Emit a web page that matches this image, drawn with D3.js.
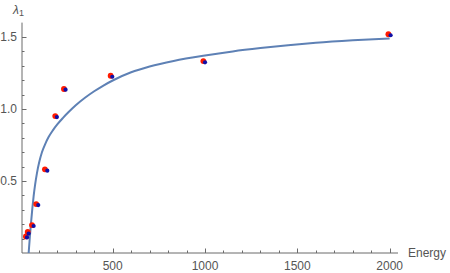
<!DOCTYPE html>
<html><head><meta charset="utf-8">
<script src="https://cdn.jsdelivr.net/npm/d3@7"></script>
<style>
html,body{margin:0;padding:0;background:#fff;}
svg text{font-family:"Liberation Sans",Arial,sans-serif;}
</style></head>
<body><svg id="c" width="450" height="273"></svg>
<script>
// Data
const redEnergy = [30, 40, 63, 86, 133, 189, 236, 489, 991, 1993];
const redLambda = [0.115, 0.146, 0.194, 0.340, 0.581, 0.951, 1.139, 1.231, 1.333, 1.519];
const blueEnergy = [36, 45, 72, 97, 146, 198, 245, 498, 1000, 2005];
const blueLambda = [0.108, 0.135, 0.1875, 0.333, 0.572, 0.944, 1.134, 1.224, 1.324, 1.512];
const fitEnergy = [45, 52, 59, 65, 72, 80, 90, 103, 117, 134, 153, 175, 200, 230, 260, 300, 350, 400, 450, 500, 600, 700, 830, 1000, 1150, 1300, 1450, 1600, 1800, 2000];
const fitLambda = [0, 0.12, 0.225, 0.31, 0.395, 0.475, 0.555, 0.635, 0.70, 0.755, 0.805, 0.85, 0.893, 0.937, 0.977, 1.026, 1.078, 1.123, 1.163, 1.198, 1.255, 1.295, 1.334, 1.372, 1.40, 1.423, 1.443, 1.46, 1.477, 1.49];
const xMajorTicks = [500, 1000, 1500, 2000];
const yMajorTicks = [0.5, 1.0, 1.5];

const svg = d3.select("#c");
const x = d3.scaleLinear().domain([9, 2045]).range([22, 398]);
const y = d3.scaleLinear().domain([0, 1.6]).range([253, 22.6]);
const axisColor = "#6b6b6b", textColor = "#555";

const xMinor = d3.range(100, 2001, 100).filter(v => !xMajorTicks.includes(v));
const yMinor = d3.range(1, 16).map(i => i / 10).filter(v => !yMajorTicks.some(t => Math.abs(t - v) < 1e-9));

const g = svg.append("g");
g.append("line").attr("x1", x(9)).attr("x2", x(2045)).attr("y1", y(0)).attr("y2", y(0))
  .attr("stroke", axisColor).attr("stroke-width", 1);
g.append("line").attr("x1", x(9)).attr("x2", x(9)).attr("y1", y(0)).attr("y2", y(1.6))
  .attr("stroke", axisColor).attr("stroke-width", 1);

g.selectAll(".xmin").data(xMinor).join("line")
  .attr("x1", d => Math.round(x(d)) + 0.5).attr("x2", d => Math.round(x(d)) + 0.5)
  .attr("y1", y(0)).attr("y2", y(0) - 2.5).attr("stroke", axisColor);
g.selectAll(".xmaj").data(xMajorTicks).join("line")
  .attr("x1", d => Math.round(x(d)) + 0.5).attr("x2", d => Math.round(x(d)) + 0.5)
  .attr("y1", y(0)).attr("y2", y(0) - 4.5).attr("stroke", axisColor);
g.selectAll(".xlab").data(xMajorTicks).join("text")
  .attr("x", d => x(d)).attr("y", 269.5).attr("text-anchor", "middle")
  .attr("font-size", 12).attr("fill", textColor).text(d => d);

g.selectAll(".ymin").data(yMinor).join("line")
  .attr("x1", x(9)).attr("x2", x(9) + 2.5)
  .attr("y1", d => Math.round(y(d)) + 0.5).attr("y2", d => Math.round(y(d)) + 0.5).attr("stroke", axisColor);
g.selectAll(".ymaj").data(yMajorTicks).join("line")
  .attr("x1", x(9)).attr("x2", x(9) + 4.5)
  .attr("y1", d => Math.round(y(d)) + 0.5).attr("y2", d => Math.round(y(d)) + 0.5).attr("stroke", axisColor);
g.selectAll(".ylab").data(yMajorTicks).join("text")
  .attr("x", 17).attr("y", d => y(d) + 4.3).attr("text-anchor", "end")
  .attr("font-size", 12).attr("fill", textColor).text(d => d.toFixed(1));

svg.append("text").attr("x", 408).attr("y", 256.5).attr("font-size", 12).attr("fill", textColor).text("Energy");
const lam = svg.append("text").attr("x", 13).attr("y", 13.5).attr("font-size", 12).attr("fill", textColor);
lam.append("tspan").attr("font-style", "italic").text("λ");
lam.append("tspan").attr("font-size", 9).attr("dy", 2.5).text("1");

const fit = fitEnergy.map((e, i) => [e, fitLambda[i]]);
svg.append("path").datum(fit)
  .attr("d", d3.line().x(d => x(d[0])).y(d => y(d[1])).curve(d3.curveMonotoneX))
  .attr("fill", "none").attr("stroke", "#5E81B5").attr("stroke-width", 2);

const red = redEnergy.map((e, i) => [e, redLambda[i]]);
const blue = blueEnergy.map((e, i) => [e, blueLambda[i]]);
svg.selectAll(".r").data(red).join("circle")
  .attr("cx", d => x(d[0])).attr("cy", d => y(d[1])).attr("r", 2.9).attr("fill", "#ff1a00");
svg.selectAll(".b").data(blue).join("circle")
  .attr("cx", d => x(d[0])).attr("cy", d => y(d[1])).attr("r", 2.1).attr("fill", "#1010a8");
</script></body></html>
